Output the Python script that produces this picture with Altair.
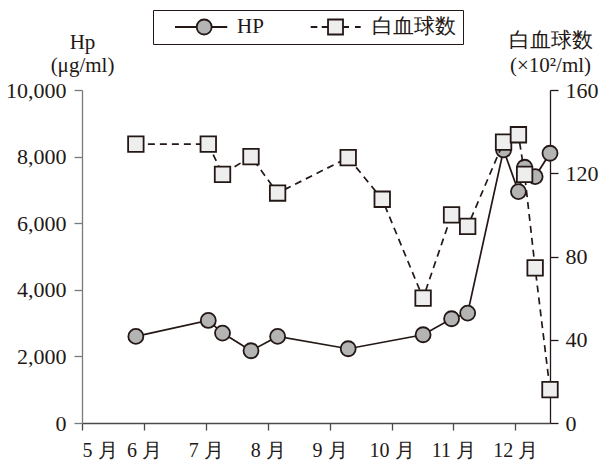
import altair as alt
import pandas as pd

# x positions are months counted from 1 May (0 = 5月, 1 = 6月, ...)
month_labels = ["5 月", "6 月", "7 月", "8 月", "9 月", "10 月", "11 月", "12 月"]
visit_month = [0.87, 2.04, 2.27, 2.73, 3.16, 4.30, 4.85, 5.51, 5.97, 6.23, 6.81, 7.05, 7.15, 7.32, 7.56]
hp_values = [2600, 3080, 2700, 2170, 2600, 2230, None, 2650, 3130, 3300, 8200, 6950, 7680, 7400, 8100]
wbc_values = [134, 134, 119.5, 128, 110.5, 127.5, 107.5, 60, 100, 94.5, 135, 138.5, 119.5, 74.5, 16]
hp_ticks = [0, 2000, 4000, 6000, 8000, 10000]
wbc_ticks = [0, 40, 80, 120, 160]
series_names = ["HP", "白血球数"]

INK = "#231815"
FONT = "'Times New Roman', 'Liberation Serif', 'DejaVu Serif', serif"
HP_FILL = "#b4b4b4"
WBC_FILL = "#eeeeee"

hp_df = pd.DataFrame({"month": visit_month, "value": hp_values, "series": series_names[0]}).dropna()
wbc_df = pd.DataFrame({"month": visit_month, "value": wbc_values, "series": series_names[1]})

# legend glyphs: line with a circle / dashed line with a square
HP_PATH = ("M-0.6,0H0.02M0.448,0H0.894"
           "M0.448,0A0.214,0.214,0,1,1,0.02,0A0.214,0.214,0,1,1,0.448,0Z")
WBC_PATH = ("M-0.58,0H-0.39M-0.265,0H-0.085M0.343,0H0.514M0.686,0H0.848"
            "M-0.085,-0.214H0.343V0.214H-0.085Z")
shape_expr = f"datum.value === 'HP' ? '{HP_PATH}' : '{WBC_PATH}'"

legend = alt.Legend(
    title=None, orient="none", legendX=71, legendY=-80,
    direction="horizontal", columns=2, padding=7,
    strokeColor=INK, fillColor="white", clipHeight=20,
    labelFont=FONT, labelFontSize=21, labelColor=INK,
    labelOffset=5, columnPadding=31,
    symbolType={"expr": shape_expr},
    symbolSize=4900, symbolStrokeColor=INK, symbolStrokeWidth=1.8,
    symbolOpacity=1,
)

fill_scale = alt.Scale(domain=series_names, range=[HP_FILL, WBC_FILL])

x_enc = alt.X(
    "month:Q",
    scale=alt.Scale(domain=[0, 7.56], nice=False, zero=False),
    axis=alt.Axis(
        values=list(range(len(month_labels))),
        labelExpr="[" + ",".join(f"'{m}'" for m in month_labels) + "][datum.value]",
        title=None, tickSize=7, labelPadding=10, labelFontSize=20,
        domainColor="#4a4a4a", tickColor="#4a4a4a",
    ),
)

hp_y = alt.Y(
    "value:Q",
    scale=alt.Scale(domain=[0, 10000], nice=False),
    axis=alt.Axis(
        orient="left", values=hp_ticks, format=",d", tickSize=8, labelPadding=8,
        title=["Hp", "(μg/ml)"], titleAngle=0, titleAlign="center",
        titleBaseline="alphabetic", titleX=0, titleY=-42, titleLineHeight=23,
        domainColor="#7a7a7a", tickColor="#7a7a7a",
    ),
)

wbc_y = alt.Y(
    "value:Q",
    scale=alt.Scale(domain=[0, 160], nice=False),
    axis=alt.Axis(
        orient="right", values=wbc_ticks, tickSize=8, labelPadding=7,
        title=["白血球数", "(×10²/ml)"], titleAngle=0, titleAlign="center",
        titleBaseline="alphabetic", titleX=0, titleY=-44, titleLineHeight=25,
        domainColor=INK, tickColor=INK,
    ),
)

hp_base = alt.Chart(hp_df)
hp_line = hp_base.mark_line(color=INK, strokeWidth=1.7).encode(x=x_enc, y=hp_y)
hp_pts = hp_base.mark_point(shape="circle", filled=True, size=225, stroke=INK,
                            strokeWidth=1.8, opacity=1).encode(
    x=x_enc, y=hp_y,
    fill=alt.Fill("series:N", scale=fill_scale, legend=legend),
)

wbc_base = alt.Chart(wbc_df)
wbc_line = wbc_base.mark_line(color=INK, strokeWidth=1.7, strokeDash=[7, 5]).encode(x=x_enc, y=wbc_y)
wbc_pts = wbc_base.mark_point(shape="square", filled=True, size=240, stroke=INK,
                              strokeWidth=1.8, opacity=1).encode(
    x=x_enc, y=wbc_y,
    fill=alt.Fill("series:N", scale=fill_scale, legend=legend),
)

chart = (
    alt.layer(alt.layer(hp_line, hp_pts), alt.layer(wbc_line, wbc_pts))
    .resolve_scale(y="independent")
    .properties(
        width=468, height=333,
        autosize=alt.AutoSizeParams(type="none"),
        padding={"left": 82, "top": 90, "right": 49, "bottom": 38},
        background="white",
    )
    .configure_view(stroke=None)
    .configure_axis(
        grid=False, labelFont=FONT, labelFontSize=22, labelColor=INK,
        titleFont=FONT, titleFontSize=21, titleColor=INK, titleFontWeight="normal",
        domainWidth=1.3, tickWidth=1.3,
    )
)

chart.save("out.html", embed_options={"renderer": "svg", "actions": False})
